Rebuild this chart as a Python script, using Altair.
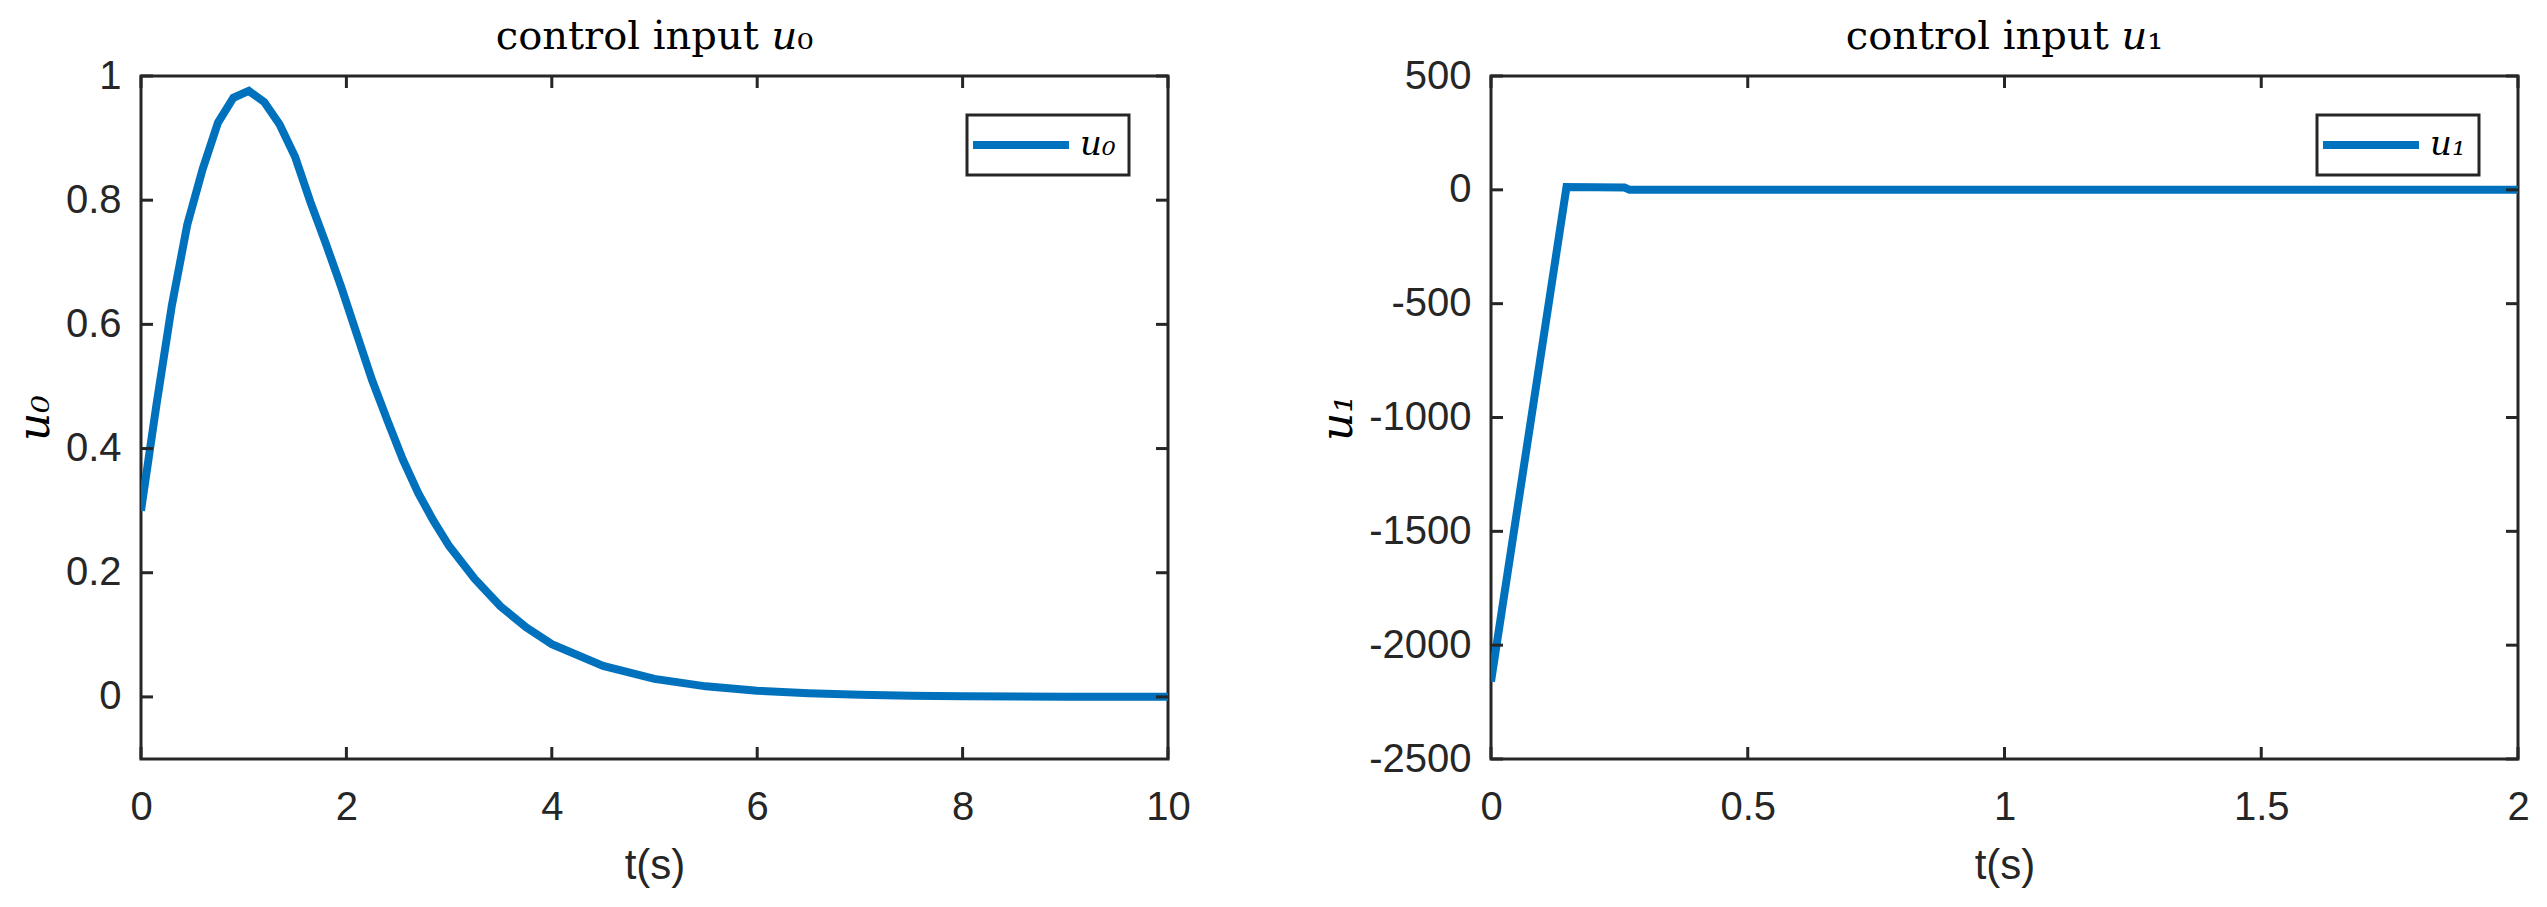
import altair as alt
import pandas as pd

# ---- data ----
t0 = [0, 0.15, 0.3, 0.45, 0.6, 0.75, 0.9, 1.05, 1.2, 1.35, 1.5, 1.65, 1.8, 1.95,
      2.1, 2.25, 2.4, 2.55, 2.7, 2.85, 3.0, 3.25, 3.5, 3.75, 4.0, 4.5, 5.0, 5.5,
      6.0, 6.5, 7.0, 7.5, 8.0, 9.0, 10.0]
u0 = [0.30, 0.47, 0.63, 0.76, 0.85, 0.925, 0.965, 0.976, 0.958, 0.922, 0.870,
      0.797, 0.730, 0.660, 0.585, 0.510, 0.445, 0.382, 0.328, 0.283, 0.243,
      0.190, 0.146, 0.112, 0.085, 0.050, 0.029, 0.017, 0.010, 0.006, 0.0035,
      0.002, 0.001, 0.0003, 0.0001]

t1 = [0, 0.147, 0.26, 0.27, 0.5, 1.0, 1.5, 2.0]
u1 = [-2160, 12, 10, 0, 0, 0, 0, 0]

x0_ticks = [0, 2, 4, 6, 8, 10]
y0_ticks = [0, 0.2, 0.4, 0.6, 0.8, 1]
x1_ticks = [0, 0.5, 1, 1.5, 2]
y1_ticks = [-2500, -2000, -1500, -1000, -500, 0, 500]

names = ["u\u2080", "u\u2081"]
titles = ["control input \U0001D462\u2080", "control input \U0001D462\u2081"]

# ---- style ----
W, H = 1027, 683
BLUE = "#0072BD"
INK = "#262626"
TICK = 12
SANS = "Liberation Sans"
SERIF = "DejaVu Serif"


def panel(t, u, name, xticks, yticks, xdom, ydom, title):
    df = pd.DataFrame({"t": t, "u": u, "series": name})
    xs = alt.Scale(domain=xdom, nice=False, zero=False)
    ys = alt.Scale(domain=ydom, nice=False, zero=False)
    xaxis = alt.Axis(values=xticks, labelExpr="'' + datum.value", title="t(s)",
                     ticks=False, domain=False, grid=False, labelPadding=28,
                     labelFont=SANS, labelFontSize=40, labelColor=INK,
                     titleFont=SANS, titleFontSize=42, titleFontWeight="normal",
                     titleColor=INK, titlePadding=18, labelFlush=False)
    yaxis = alt.Axis(values=yticks, labelExpr="'' + datum.value", title=name,
                     ticks=False, domain=False, grid=False, labelPadding=20,
                     labelFont=SANS, labelFontSize=40, labelColor=INK,
                     titleFont=SERIF, titleFontSize=44, titleFontStyle="italic",
                     titleFontWeight="normal", titleColor="black",
                     titlePadding=8, labelFlush=False)
    legend = alt.Legend(title=None, orient="top-right", offset=39, padding=13,
                        strokeColor=INK, fillColor="white",
                        symbolType="M-4.8,0H4.8", symbolSize=400,
                        symbolStrokeWidth=8, symbolOffset=24, labelOffset=42,
                        labelFont=SERIF, labelFontSize=34,
                        labelFontStyle="italic", labelColor="black")
    line = alt.Chart(df).mark_line(strokeWidth=8, clip=True).encode(
        x=alt.X("t:Q", scale=xs, axis=xaxis),
        y=alt.Y("u:Q", scale=ys, axis=yaxis),
        color=alt.Color("series:N", scale=alt.Scale(range=[BLUE]), legend=legend),
    )
    xt = pd.DataFrame({"t": xticks})
    yt = pd.DataFrame({"u": yticks})
    rule = dict(color=INK, strokeWidth=3)
    bottom = alt.Chart(xt).mark_rule(**rule).encode(
        x=alt.X("t:Q", scale=xs, axis=xaxis), y=alt.value(H), y2=alt.value(H - TICK))
    top = alt.Chart(xt).mark_rule(**rule).encode(
        x=alt.X("t:Q", scale=xs, axis=xaxis), y=alt.value(0), y2=alt.value(TICK))
    left = alt.Chart(yt).mark_rule(**rule).encode(
        y=alt.Y("u:Q", scale=ys, axis=yaxis), x=alt.value(0), x2=alt.value(TICK))
    right = alt.Chart(yt).mark_rule(**rule).encode(
        y=alt.Y("u:Q", scale=ys, axis=yaxis), x=alt.value(W), x2=alt.value(W - TICK))
    return alt.layer(line, bottom, top, left, right).properties(
        width=W, height=H,
        title=alt.TitleParams(title, font=SERIF, fontSize=40, fontWeight="normal",
                              color="black", anchor="middle", baseline="alphabetic",
                              frame="group", offset=-33),
    )


p0 = panel(t0, u0, names[0], x0_ticks, y0_ticks, [0, 10], [-0.1, 1], titles[0])
p1 = panel(t1, u1, names[1], x1_ticks, y1_ticks, [0, 2], [-2500, 500], titles[1])

chart = alt.hconcat(p0, p1, spacing=123).resolve_scale(color="independent").properties(
    padding={"left": 3, "top": 7, "right": 0, "bottom": 0}
).configure_view(stroke=INK, strokeWidth=3).configure_legend(strokeWidth=3)

chart.save("out.html", embed_options={"renderer": "svg", "actions": False})
